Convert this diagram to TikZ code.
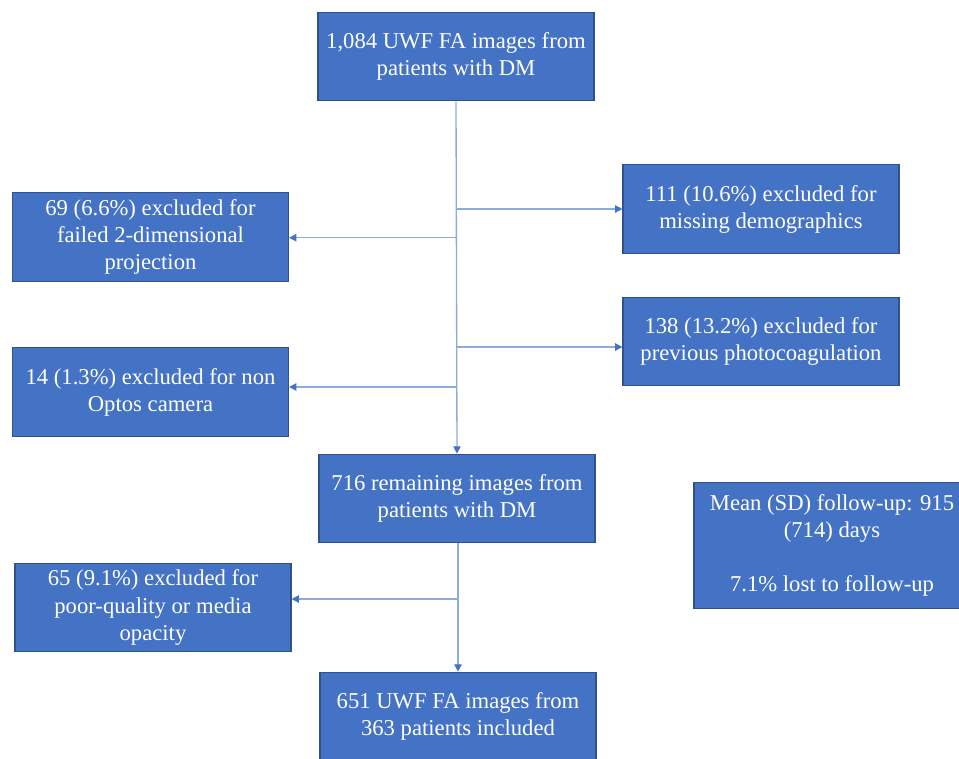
\documentclass[tikz,border=0pt]{standalone}
\usepackage{fontspec}
\setmainfont{Liberation Serif}
\usetikzlibrary{arrows.meta}
\definecolor{boxblue}{HTML}{4472C4}
\definecolor{boxedge}{HTML}{2F528F}
\definecolor{linkblue}{HTML}{8FAADC}
\tikzset{
    flowbox/.style={draw=boxedge,line width=0.8pt,fill=boxblue,text=white,
        minimum width=207pt,minimum height=66.5pt,align=center,inner sep=2pt,
        font=\fontsize{17}{20.3}\selectfont},
    link/.style={draw=linkblue,line width=1pt,
        -{Triangle[length=5.5pt,width=5.5pt,fill=boxblue,color=boxblue]}}
}
\begin{document}
\begin{tikzpicture}[x=0.75pt,y=-0.75pt]
    \useasboundingbox (0,0) rectangle (959,758);
    \node[flowbox] (Top) at (456,56.5) {1,084 UWF FA images from\\patients with DM};
    \node[flowbox] (ExA) at (150.5,237) {69 (6.6\%) excluded for\\failed 2-dimensional\\projection};
    \node[flowbox] (ExB) at (761,209) {111 (10.6\%) excluded for\\missing demographics};
    \node[flowbox] (ExC) at (761,341.5) {138 (13.2\%) excluded for\\previous photocoagulation};
    \node[flowbox] (ExD) at (150.5,392) {14 (1.3\%) excluded for non\\Optos camera};
    \node[flowbox] (Mid) at (457,498.5) {716 remaining images from\\patients with DM};
    \node[flowbox,minimum height=95pt] (FU) at (832,545.5) {Mean (SD) follow-up: 915\\(714) days\\[20.3pt]7.1\% lost to follow-up};
    \node[flowbox] (ExE) at (153,607.5) {65 (9.1\%) excluded for\\poor-quality or media\\opacity};
    \node[flowbox] (Bot) at (458,716.5) {651 UWF FA images from\\363 patients included};

    \coordinate (Ab) at (457,209);
    \coordinate (Bb) at (457,237.7);
    \coordinate (Cb) at (457,347);
    \coordinate (Db) at (457,387);
    \coordinate (Eb) at (458,599);

    \draw[link] (Top.south) -- (Mid.north);
    \draw[link] (Ab) -- (Ab -| ExB.west);
    \draw[link] (Bb) -- (Bb -| ExA.east);
    \draw[link] (Cb) -- (Cb -| ExC.west);
    \draw[link] (Db) -- (Db -| ExD.east);
    \draw[link] (Mid.south -| Eb) -- (Bot.north -| Eb);
    \draw[link] (Eb) -- (Eb -| ExE.east);
\end{tikzpicture}
\end{document}
